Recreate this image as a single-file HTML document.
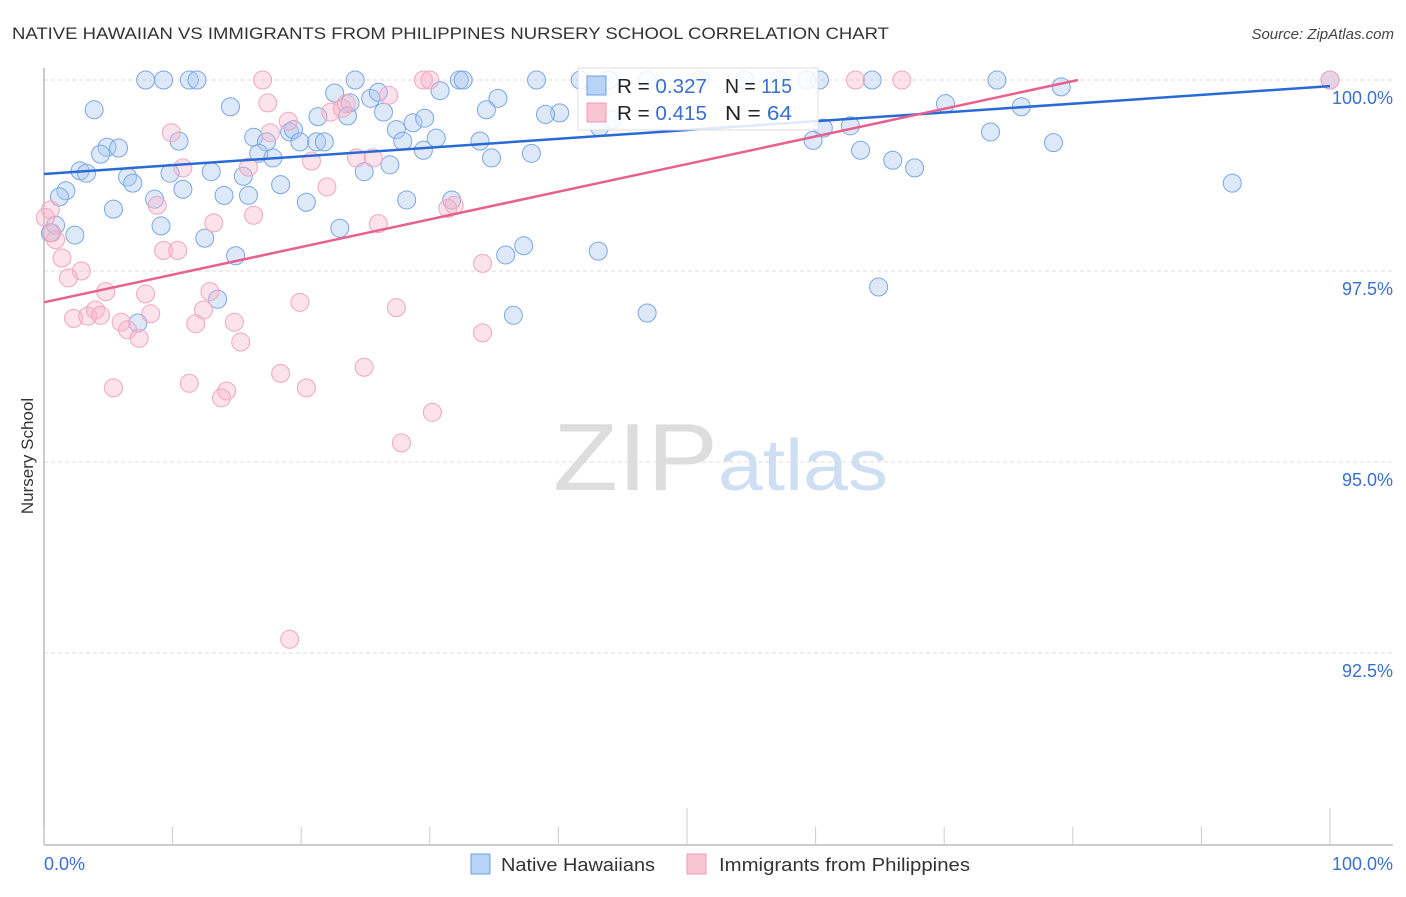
<!DOCTYPE html>
<html><head><meta charset="utf-8"><style>
body{margin:0;background:#fff;}
svg text{font-family:"Liberation Sans",sans-serif;}
</style></head><body>
<svg id="chart" width="1406" height="892" viewBox="0 0 1406 892" xmlns="http://www.w3.org/2000/svg">
<text x="12" y="39" font-size="17" fill="#333" textLength="877" lengthAdjust="spacingAndGlyphs">NATIVE HAWAIIAN VS IMMIGRANTS FROM PHILIPPINES NURSERY SCHOOL CORRELATION CHART</text>
<text x="1394" y="39" font-size="15" fill="#444" font-style="italic" text-anchor="end">Source: ZipAtlas.com</text>
<g>
<text x="553" y="490" font-size="96" fill="#ddd" font-family="Liberation Serif, serif" textLength="165" lengthAdjust="spacingAndGlyphs">ZIP</text>
<text x="718" y="490" font-size="72" fill="#cfdff3" textLength="170" lengthAdjust="spacingAndGlyphs">atlas</text>
</g>
<g id="grid"></g>
<g id="axes"></g>
<g id="pts"></g>
<g id="trends"></g>
<text transform="translate(33,456) rotate(-90)" font-size="17" fill="#333" text-anchor="middle">Nursery School</text>
<g>
<rect x="578" y="68" width="240" height="62" fill="#fff" fill-opacity="0.85" stroke="#ddd"/>
<rect x="587" y="76" width="19" height="19" fill="#b7d3f5" stroke="#6f9fe0"/>
<rect x="587" y="103" width="19" height="19" fill="#f9c4d4" stroke="#ee9ab4"/>
<text x="617" y="93" font-size="20" fill="#222" textLength="90" lengthAdjust="spacingAndGlyphs">R = <tspan fill="#3a6fd0">0.327</tspan></text>
<text x="725" y="93" font-size="20" fill="#222" textLength="67" lengthAdjust="spacingAndGlyphs">N = <tspan fill="#3a6fd0">115</tspan></text>
<text x="617" y="120" font-size="20" fill="#222" textLength="90" lengthAdjust="spacingAndGlyphs">R = <tspan fill="#3a6fd0">0.415</tspan></text>
<text x="725" y="120" font-size="20" fill="#222" textLength="67" lengthAdjust="spacingAndGlyphs">N = <tspan fill="#3a6fd0"> 64</tspan></text>
</g>
<g>
<rect x="471" y="854" width="19" height="20" fill="#b7d3f5" stroke="#6f9fe0"/>
<text x="501" y="871" font-size="18" fill="#333" textLength="154" lengthAdjust="spacingAndGlyphs">Native Hawaiians</text>
<rect x="687" y="854" width="19" height="20" fill="#f9c4d4" stroke="#ee9ab4"/>
<text x="719" y="871" font-size="18" fill="#333" textLength="251" lengthAdjust="spacingAndGlyphs">Immigrants from Philippines</text>
</g>
</svg>
<script>
const blueX=[7.9,9.3,11.3,11.9,24.2,32.3,32.6,38.3,41.7,74.1,64.4,60.3,43.9,46.9,51.0,54.5,57.2,59.3,
3.9,14.5,22.6,23.8,25.4,26.0,30.8,35.3,34.4,26.4,21.3,23.6,28.7,27.4,29.6,40.1,39.0,
10.5,16.3,17.3,19.1,19.4,19.9,21.2,21.8,27.9,29.5,30.5,33.9,34.8,37.9,43.2,44.2,
4.9,5.8,4.4,2.8,3.3,16.7,17.8,26.9,24.9,9.8,13.0,15.5,6.5,6.9,1.7,1.2,10.8,14.0,15.9,18.4,20.4,28.2,31.7,8.6,5.4,9.1,12.5,0.9,0.5,2.4,23.0,14.9,37.3,35.9,43.1,13.5,7.3,36.5,46.9,
60.6,62.7,59.8,63.5,66.0,67.7,70.1,76.0,73.6,78.5,79.1,92.4,64.9,100];
const blueY=[100,100,100,100,100,100,100,100,100,100,100,100,100,100,100,100,100,100,
99.61,99.65,99.83,99.70,99.76,99.84,99.86,99.76,99.61,99.58,99.52,99.53,99.44,99.35,99.50,99.57,99.55,
99.20,99.25,99.19,99.32,99.35,99.19,99.19,99.19,99.20,99.08,99.24,99.20,98.98,99.04,99.38,99.48,
99.12,99.11,99.03,98.81,98.78,99.04,98.98,98.89,98.80,98.78,98.80,98.74,98.73,98.65,98.55,98.47,98.57,98.49,98.49,98.63,98.40,98.43,98.43,98.44,98.31,98.09,97.93,98.10,98.00,97.97,98.06,97.70,97.83,97.71,97.76,97.13,96.82,96.92,96.95,
99.37,99.40,99.21,99.08,98.95,98.85,99.69,99.65,99.32,99.18,99.91,98.65,97.29,100];
const pinkX=[17.0,29.5,30.0,63.1,66.7,100,17.4,22.3,23.2,23.5,26.8,19.0,9.9,17.6,10.8,15.9,20.8,24.3,25.6,8.8,16.3,13.2,22.0,26.0,31.4,31.9,34.1,9.3,10.4,0.9,1.4,2.9,1.9,4.8,7.9,12.9,2.3,3.4,4.0,4.4,6.0,6.5,7.4,8.3,11.8,12.4,14.8,15.3,19.9,27.4,34.1,5.4,11.3,14.2,13.8,18.4,20.4,24.9,30.2,27.8,19.1,0.5,0.1,0.6];
const pinkY=[100,100,100,100,100,100,99.70,99.58,99.63,99.69,99.80,99.46,99.31,99.31,98.85,98.86,98.94,98.98,98.98,98.36,98.23,98.13,98.60,98.12,98.32,98.36,97.60,97.77,97.77,97.91,97.67,97.50,97.41,97.23,97.20,97.23,96.88,96.91,96.99,96.92,96.83,96.73,96.62,96.94,96.81,96.99,96.83,96.57,97.09,97.02,96.69,95.97,96.03,95.93,95.84,96.16,95.97,96.24,95.65,95.25,92.68,98.30,98.20,98.00];
const yTicks=[100,97.5,95,92.5];
const yTickLabels=["100.0%","97.5%","95.0%","92.5%"];
const xTicks=[0,10,20,30,40,50,60,70,80,90,100];
const blueTrend=[[0,98.77],[100,99.92]];
const pinkTrend=[[0,97.09],[80.4,100]];
const sx=v=>44+v*12.86;
const sy=v=>80+(100-v)*76.4;
const NS='http://www.w3.org/2000/svg';
function mk(tag,attrs,parent){const e=document.createElementNS(NS,tag);for(const k in attrs)e.setAttribute(k,attrs[k]);parent.appendChild(e);return e;}
const grid=document.getElementById('grid'),axes=document.getElementById('axes'),pts=document.getElementById('pts'),tr=document.getElementById('trends');
yTicks.forEach((t,i)=>{
 const l=mk('line',{x1:44,x2:1393,y1:sy(t),y2:sy(t),stroke:'#ddd','stroke-dasharray':'4,3'},grid);
 
 
 const tx=mk('text',{x:1393,y:sy(t)+24,'font-size':18,fill:'#3a6fd0','text-anchor':'end'},grid);
 tx.textContent=yTickLabels[i];
 
 
});
const ax=mk('line',{x1:44,x2:1393,y1:845,y2:845,stroke:'#bbb','stroke-width':1.5},axes);


const ay=mk('line',{x1:44,x2:44,y1:68,y2:845,stroke:'#bbb','stroke-width':1.5},axes);


xTicks.forEach(t=>{
 const major=(t===50||t===100);
 const tk=mk('line',{x1:sx(t),x2:sx(t),y1:major?808:827,y2:845,stroke:'#ccc'},axes);
 
 
});
[[0,'0.0%','start',44],[100,'100.0%','end',1393]].forEach(a=>{
 const tx=mk('text',{x:a[3],y:870,'font-size':18,fill:'#3a6fd0','text-anchor':a[2]},axes);
 tx.textContent=a[1];
 
 
});
blueX.forEach((x,i)=>{
 const c=mk('circle',{cx:sx(x),cy:sy(blueY[i]),r:9,fill:'#a9c8f0','fill-opacity':0.4,stroke:'#7aa6e4','stroke-width':1},pts);
 
 
});
pinkX.forEach((x,i)=>{
 const c=mk('circle',{cx:sx(x),cy:sy(pinkY[i]),r:9,fill:'#f6b4c8','fill-opacity':0.38,stroke:'#f0a6be','stroke-width':1},pts);
 
 
});
const bl=mk('line',{x1:sx(blueTrend[0][0]),y1:sy(blueTrend[0][1]),x2:sx(blueTrend[1][0]),y2:sy(blueTrend[1][1]),stroke:'#2a6ad6','stroke-width':2.5},tr);


const pl=mk('line',{x1:sx(pinkTrend[0][0]),y1:sy(pinkTrend[0][1]),x2:sx(pinkTrend[1][0]),y2:sy(pinkTrend[1][1]),stroke:'#e8608c','stroke-width':2.5},tr);


</script>
</body></html>
